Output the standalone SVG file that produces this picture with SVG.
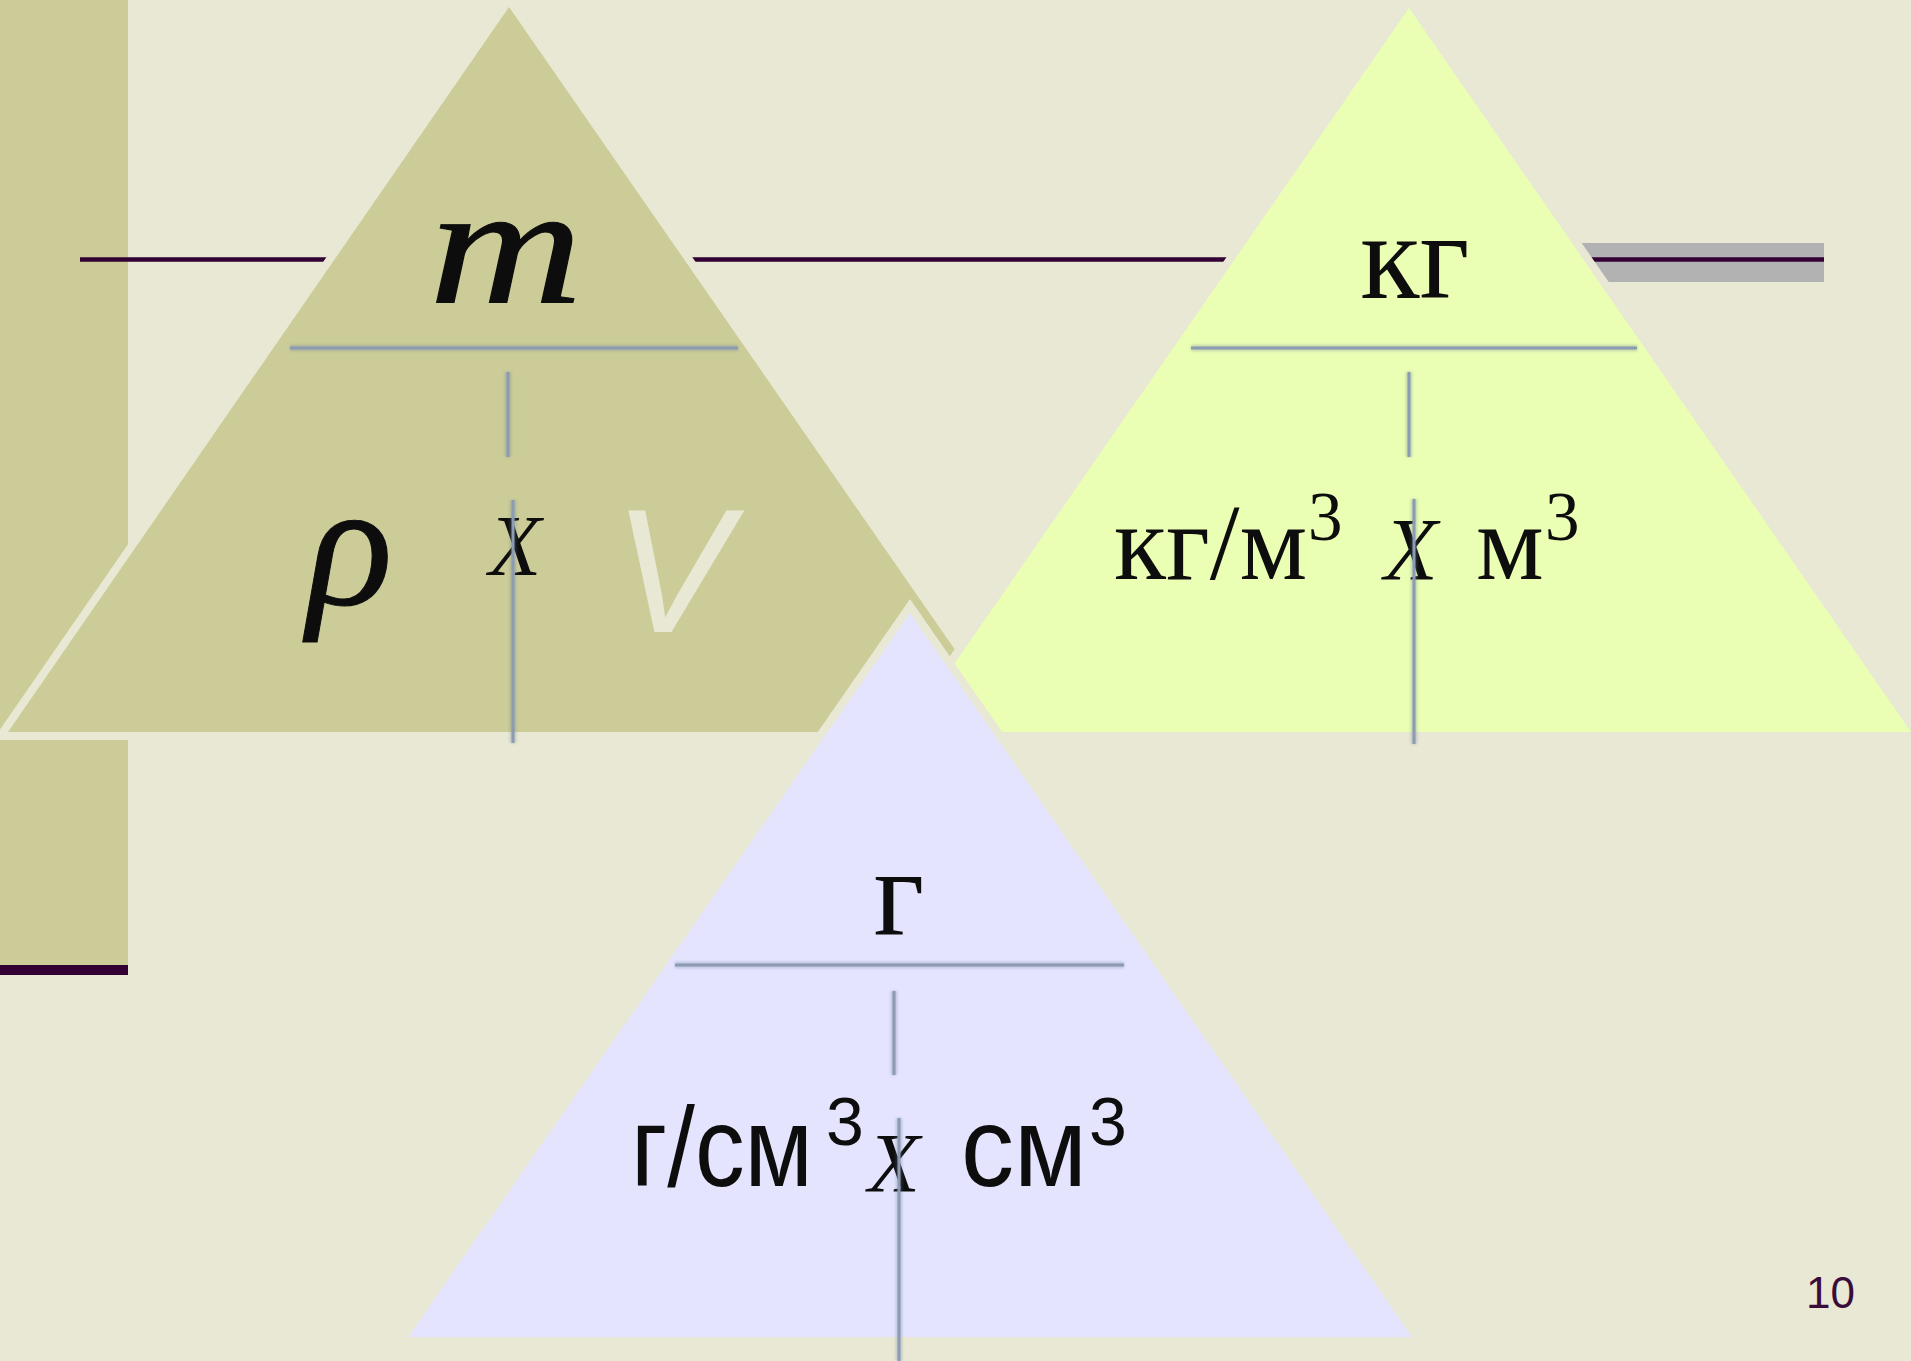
<svg xmlns="http://www.w3.org/2000/svg" width="1911" height="1361" viewBox="0 0 1911 1361">
<defs>
<filter id="soft" filterUnits="userSpaceOnUse" x="0" y="0" width="1911" height="1361"><feGaussianBlur stdDeviation="1.8"/></filter>
<style>
.tri{stroke:#e8e8d4;stroke-width:16;stroke-linejoin:miter;paint-order:stroke}
.sh{stroke:#6d7c95;stroke-width:6;opacity:0.35;filter:url(#soft)}
.ln{stroke:#8b9bb2;stroke-width:3}
.ser{font-family:"Liberation Serif","Times New Roman",serif;fill:#0d0d0d}
.it{font-style:italic}
.bold{stroke:#0d0d0d;stroke-width:1}
.sans{font-family:"Liberation Sans",Arial,sans-serif;fill:#0d0d0d}
</style>
</defs>
<rect x="0" y="0" width="1911" height="1361" fill="#e8e8d4"/>
<g id="background">
<rect x="0" y="0" width="128" height="965" fill="#cccc99"/>
<rect x="0" y="965" width="128" height="10" fill="#330033"/>
<rect x="1500" y="243" width="324" height="39" fill="#b2b2b2"/>
<line x1="80" y1="259.5" x2="1824" y2="259.5" stroke="#330033" stroke-width="4.5"/>
</g>
<g id="node-olive">
<polygon class="tri" points="509,7 8,732 1012,732" fill="#cccc99"/>
<text class="ser it bold" transform="translate(506,302) scale(1.26,1)" x="0" y="0" font-size="169" text-anchor="middle">m</text>
<text class="ser it bold" x="350" y="604" font-size="178" text-anchor="middle">ρ</text>
<text class="ser it" x="515" y="575" font-size="86" text-anchor="middle">X</text>
<text x="672" y="632" font-size="176" font-family="Liberation Sans, Arial, sans-serif" font-style="italic" fill="#e8e8d4" text-anchor="middle">V</text>
<g fill="none">
<line class="sh" x1="290" y1="348" x2="738" y2="348"/><line class="ln" x1="290" y1="348" x2="738" y2="348"/>
<line class="sh" x1="508" y1="372" x2="508" y2="457"/><line class="ln" x1="508" y1="372" x2="508" y2="457"/>
<line class="sh" x1="513" y1="500" x2="513" y2="743"/><line class="ln" x1="513" y1="500" x2="513" y2="743"/>
</g>
</g>
<g id="node-lime">
<polygon class="tri" points="1409,8 907,732 1911,732" fill="#eaffb4"/>
<text class="ser" x="1415" y="298" font-size="122" text-anchor="middle">кг</text>
<text class="ser" x="1114" y="579" font-size="107">кг/м</text>
<text class="ser" x="1308" y="540" font-size="69">3</text>
<text class="ser it" x="1384" y="579" font-size="88">X</text>
<text class="ser" x="1476" y="579" font-size="107">м</text>
<text class="ser" x="1545" y="540" font-size="69">3</text>
<g fill="none">
<line class="sh" x1="1191" y1="348" x2="1637" y2="348"/><line class="ln" x1="1191" y1="348" x2="1637" y2="348"/>
<line class="sh" x1="1409" y1="372" x2="1409" y2="457"/><line class="ln" x1="1409" y1="372" x2="1409" y2="457"/>
<line class="sh" x1="1414" y1="499" x2="1414" y2="744"/><line class="ln" x1="1414" y1="499" x2="1414" y2="744"/>
</g>
</g>
<g id="node-lavender">
<polygon class="tri" points="910,613 408,1337 1412,1337" fill="#e4e4fe"/>
<text class="ser" x="899" y="934" font-size="124" text-anchor="middle">г</text>
<text class="sans" x="631" y="1186" font-size="113" textLength="182" lengthAdjust="spacingAndGlyphs">г/см</text>
<text class="sans" x="826" y="1145" font-size="68">3</text>
<text class="ser it" x="868" y="1192" font-size="85">X</text>
<text class="sans" x="961" y="1186" font-size="113" textLength="126" lengthAdjust="spacingAndGlyphs">см</text>
<text class="sans" x="1089" y="1145" font-size="68">3</text>
<g fill="none">
<line class="sh" x1="675" y1="965" x2="1124" y2="965"/><line class="ln" x1="675" y1="965" x2="1124" y2="965"/>
<line class="sh" x1="894" y1="991" x2="894" y2="1075"/><line class="ln" x1="894" y1="991" x2="894" y2="1075"/>
<line class="sh" x1="899" y1="1118" x2="899" y2="1361"/><line class="ln" x1="899" y1="1118" x2="899" y2="1361"/>
</g>
</g>
<g id="connectors"></g>
<text x="1806" y="1308" font-size="44" font-family="Liberation Sans, Arial, sans-serif" fill="#3a0c3a">10</text>
</svg>
